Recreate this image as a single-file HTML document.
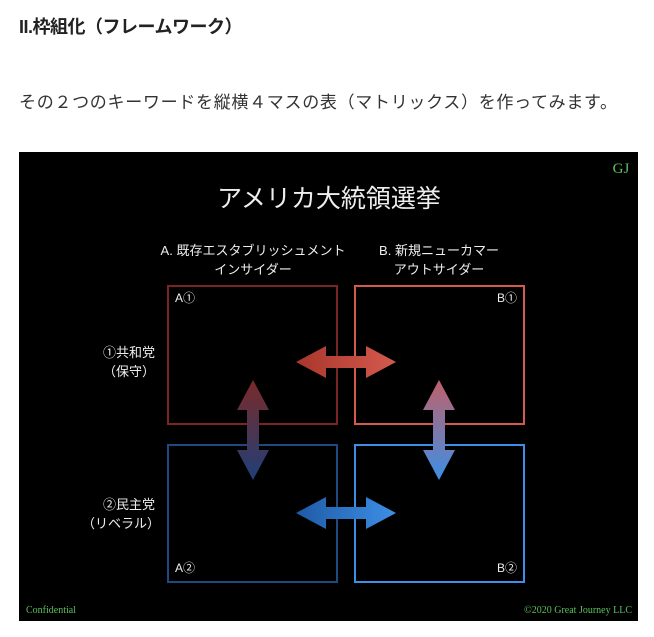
<!DOCTYPE html>
<html><head><meta charset="utf-8"><style>
body{margin:0;width:654px;height:637px;background:#fff;overflow:hidden;font-family:"Liberation Sans","Noto Sans CJK JP",sans-serif;}
.h{position:absolute;left:19px;top:13px;font-size:18px;font-weight:bold;color:#222;letter-spacing:-0.5px;}
.p{position:absolute;left:19px;top:88px;font-size:17px;color:#333;letter-spacing:0.7px;}
svg{position:absolute;left:0;top:0;}
</style></head><body>
<div class="h">II.枠組化（フレームワーク）</div>
<div class="p">その２つのキーワードを縦横４マスの表（マトリックス）を作ってみます。</div>
<svg width="654" height="637" viewBox="0 0 654 637">
<defs>
<linearGradient id="rh" x1="0" x2="1"><stop offset="0" stop-color="#a8362c"/><stop offset="1" stop-color="#d45a4e"/></linearGradient>
<linearGradient id="bh" x1="0" x2="1"><stop offset="0" stop-color="#1f5aa5"/><stop offset="1" stop-color="#3d8fe6"/></linearGradient>
<linearGradient id="lv" x1="0" y1="0" x2="0" y2="1"><stop offset="0" stop-color="#7a2a28"/><stop offset="1" stop-color="#1f3f78"/></linearGradient>
<linearGradient id="rv" x1="0" y1="0" x2="0" y2="1"><stop offset="0" stop-color="#c0606a"/><stop offset="1" stop-color="#3d8fe6"/></linearGradient>
</defs>
<rect x="19" y="152" width="619" height="469" fill="#000"/>
<text x="621" y="173" font-family="Liberation Serif,serif" font-size="15" fill="#5cc05c" text-anchor="middle">GJ</text>
<g font-family="Liberation Sans,Noto Sans CJK JP,sans-serif" fill="#eee">
<text x="329" y="207" font-size="25" text-anchor="middle">アメリカ大統領選挙</text>
<text x="253" y="255" font-size="13" text-anchor="middle">A. 既存エスタブリッシュメント</text>
<text x="253" y="274" font-size="13" text-anchor="middle">インサイダー</text>
<text x="439" y="255" font-size="13" text-anchor="middle">B. 新規ニューカマー</text>
<text x="439" y="274" font-size="13" text-anchor="middle">アウトサイダー</text>
<text x="155" y="357" font-size="13" text-anchor="end">①共和党</text>
<text x="155" y="376" font-size="13" text-anchor="end">（保守）</text>
<text x="155" y="509" font-size="13" text-anchor="end">②民主党</text>
<text x="160" y="528" font-size="13" text-anchor="end">（リベラル）</text>
<text x="175" y="302" font-size="12">A①</text>
<text x="517" y="302" font-size="12" text-anchor="end">B①</text>
<text x="175" y="572" font-size="12">A②</text>
<text x="517" y="572" font-size="12" text-anchor="end">B②</text>
</g>
<rect x="168" y="286" width="169" height="138" fill="none" stroke="#7a2522" stroke-width="2"/>
<rect x="355" y="286" width="169" height="138" fill="none" stroke="#d45a4e" stroke-width="2"/>
<rect x="168" y="445" width="169" height="137" fill="none" stroke="#1f4a80" stroke-width="2"/>
<rect x="355" y="445" width="169" height="137" fill="none" stroke="#3d8fe6" stroke-width="2"/>
<polygon points="296,362 326,346 326,356 366,356 366,346 396,362 366,378 366,368 326,368 326,378" fill="url(#rh)"/>
<polygon points="296,513 326,497 326,507 366,507 366,497 396,513 366,529 366,519 326,519 326,529" fill="url(#bh)"/>
<polygon points="253,380 269,410 259,410 259,450 269,450 253,480 237,450 247,450 247,410 237,410" fill="url(#lv)"/>
<polygon points="439,380 455,410 445,410 445,450 455,450 439,480 423,450 433,450 433,410 423,410" fill="url(#rv)"/>
<text x="26" y="613" font-family="Liberation Serif,serif" font-size="10" fill="#5cc05c">Confidential</text>
<text x="632" y="613" font-family="Liberation Serif,serif" font-size="10" fill="#5cc05c" text-anchor="end">©2020 Great Journey LLC</text>
</svg>
</body></html>
